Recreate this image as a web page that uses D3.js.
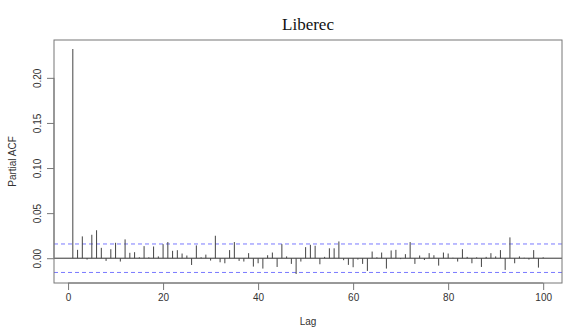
<!DOCTYPE html>
<html>
<head>
<meta charset="utf-8">
<script src="https://d3js.org/d3.v7.min.js"></script>
<style>
  body { margin: 0; background: #fff; }
  text { font-family: "Liberation Sans", Arial, sans-serif; fill: #333; }
</style>
</head>
<body>
<div id="chart"></div>
<script>
// partial autocorrelation, lags 1..100
var lags = d3.range(1, 101);
var pacf = [
  0.232, 0.0093, 0.0242, -0.0015, 0.026, 0.031, 0.0115, -0.003, 0.010, 0.0171,
  -0.0037, 0.0209, 0.0060, 0.0067, 0.001, 0.0134, 0.001, 0.013, 0.002, 0.0156,
  0.0179, 0.0082, 0.0089, 0.0052, 0.003, -0.0075, 0.0142, 0.001, 0.004, -0.0026,
  0.0249, -0.0045, -0.0056, 0.009, 0.0179, -0.003, -0.0037, 0.0056, -0.0093, -0.0056,
  -0.0115, 0.0033, 0.0063, -0.0097, 0.0156, 0.002, -0.0063, -0.0175, -0.0037, 0.0123,
  0.0149, 0.0138, -0.0067, 0.0015, 0.011, 0.011, 0.0186, -0.0022, -0.0074, -0.010,
  -0.0015, -0.0063, -0.0141, 0.0074, 0.001, 0.0063, -0.0115, 0.0086, 0.0093, -0.001,
  0.0045, 0.0179, -0.0063, 0.003, -0.002, 0.0056, 0.0033, -0.0082, 0.0063, 0.0052,
  0.0005, -0.0037, 0.010, 0.0015, -0.0056, 0.001, -0.0097, 0.0015, 0.0056, 0.002,
  0.009, -0.013, 0.0231, -0.0056, 0.002, 0.0005, -0.0015, 0.009, -0.0104, 0.001
];
var ciLevel = 0.0158;
var xTicks = [0, 20, 40, 60, 80, 100];
var yTicks = [0, 0.05, 0.10, 0.15, 0.20];

var width = 565, height = 329;
var margin = {top: 40, right: 3, bottom: 46, left: 54};

var svg = d3.select("#chart").append("svg")
  .attr("width", width)
  .attr("height", height);

// R style 4% padding round the data range
var xr = [1, 100], xpad = (xr[1] - xr[0]) * 0.04;
var yMin = Math.min(d3.min(pacf), -ciLevel), yMax = Math.max(d3.max(pacf), ciLevel);
var ypad = (yMax - yMin) * 0.04;

var x = d3.scaleLinear()
  .domain([xr[0] - xpad, xr[1] + xpad])
  .range([margin.left, width - margin.right]);
var y = d3.scaleLinear()
  .domain([yMin - ypad, yMax + ypad])
  .range([height - margin.bottom, margin.top]);

// title
svg.append("text")
  .attr("x", (margin.left + width - margin.right) / 2)
  .attr("y", 30)
  .attr("text-anchor", "middle")
  .style("font-family", "'Liberation Serif', 'Times New Roman', serif")
  .style("font-size", "17px")
  .style("fill", "#111")
  .text("Liberec");

// confidence bounds
[ciLevel, -ciLevel].forEach(function(c) {
  svg.append("line")
    .attr("x1", margin.left).attr("x2", width - margin.right)
    .attr("y1", y(c)).attr("y2", y(c))
    .attr("stroke", "#7a7aff")
    .attr("stroke-width", 1)
    .attr("stroke-dasharray", "4,3");
});

// zero line
svg.append("line")
  .attr("x1", margin.left).attr("x2", width - margin.right)
  .attr("y1", y(0)).attr("y2", y(0))
  .attr("stroke", "#333")
  .attr("stroke-width", 1);

// spikes
svg.append("g").selectAll("line")
  .data(lags)
  .enter()
  .append("line")
  .attr("x1", function(d) { return x(d); })
  .attr("x2", function(d) { return x(d); })
  .attr("y1", y(0))
  .attr("y2", function(d, i) { return y(pacf[i]); })
  .attr("stroke", "#444")
  .attr("stroke-width", 1);

// box
svg.append("rect")
  .attr("x", margin.left).attr("y", margin.top)
  .attr("width", width - margin.left - margin.right)
  .attr("height", height - margin.top - margin.bottom)
  .attr("fill", "none")
  .attr("stroke", "#777");

// x axis
var xAxis = svg.append("g")
  .attr("transform", "translate(0," + (height - margin.bottom) + ")")
  .call(d3.axisBottom(x).tickValues(xTicks).tickSize(7).tickPadding(4).tickFormat(d3.format("d")));
xAxis.select(".domain").attr("stroke", "#777").attr("d", "M" + x(0) + ",0H" + x(100));
xAxis.selectAll(".tick line").attr("stroke", "#777");
xAxis.selectAll("text").style("font-size", "10px").style("fill", "#333").style("font-family", "'Liberation Sans', Arial, sans-serif");

// y axis, labels turned like R
var yAxis = svg.append("g")
  .attr("transform", "translate(" + margin.left + ",0)")
  .call(d3.axisLeft(y).tickValues(yTicks).tickSize(7).tickFormat(d3.format(".2f")));
yAxis.select(".domain").attr("stroke", "#777").attr("d", "M0," + y(0) + "V" + y(0.20));
yAxis.selectAll(".tick line").attr("stroke", "#777");
yAxis.selectAll("text")
  .attr("x", null).attr("dy", null)
  .attr("transform", "translate(-13,0) rotate(-90)")
  .attr("text-anchor", "middle")
  .style("font-size", "10px").style("fill", "#333")
  .style("font-family", "'Liberation Sans', Arial, sans-serif");

// axis titles
svg.append("text")
  .attr("x", (margin.left + width - margin.right) / 2)
  .attr("y", 325)
  .attr("text-anchor", "middle")
  .style("font-size", "10px")
  .text("Lag");

svg.append("text")
  .attr("transform", "translate(16," + ((margin.top + height - margin.bottom) / 2) + ") rotate(-90)")
  .attr("text-anchor", "middle")
  .style("font-size", "10px")
  .text("Partial ACF");
</script>
</body>
</html>
